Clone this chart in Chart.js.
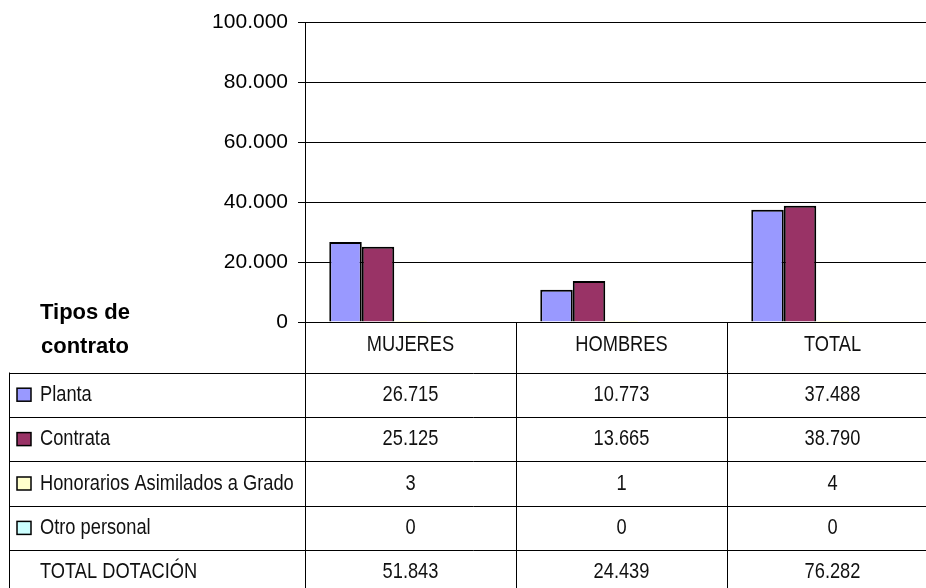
<!DOCTYPE html>
<html>
<head>
<meta charset="utf-8">
<script src="https://cdn.jsdelivr.net/npm/chart.js"></script>
<style>
  html, body { margin: 0; padding: 0; background: #ffffff; overflow: hidden; }
  /* the original plot runs a little past the right edge of the picture */
  #wrap { width: 926px; height: 588px; overflow: hidden; }
</style>
</head>
<body>
<div id="wrap"><canvas id="chart" width="938" height="588"></canvas></div>
<script>
// Chart data
const categories = ['MUJERES', 'HOMBRES', 'TOTAL'];
const seriesNames = ['Planta', 'Contrata', 'Honorarios Asimilados a Grado', 'Otro personal', 'TOTAL DOTACIÓN'];
const planta = [26715, 10773, 37488];
const contrata = [25125, 13665, 38790];
const honorarios = [3, 1, 4];
const otroPersonal = [0, 0, 0];
const totalDotacion = [51843, 24439, 76282];
const yTicks = [0, 20000, 40000, 60000, 80000, 100000];
const tableTitle = ['Tipos de', 'contrato'];

const seriesColors = ['#9999FF', '#993366', '#FFFFCC', '#CCFFFF', 'rgba(0,0,0,0)'];
const plainFont = '"Liberation Sans", Arial, sans-serif';

// 26715 -> "26.715"
function fmt(n) {
    return String(n).replace(/\B(?=(\d{3})+(?!\d))/g, '.');
}

// no narrow face installed, so squeeze Liberation Sans horizontally
function narrowText(ctx, text, x, y, align) {
    ctx.save();
    ctx.translate(x, y);
    ctx.scale(0.83, 1);
    ctx.textAlign = align;
    ctx.fillText(text, 0, 0);
    ctx.restore();
}

const seriesValues = [planta, contrata, honorarios, otroPersonal, totalDotacion];

// Draws the data table below the plot, using the x scale columns
const dataTablePlugin = {
    id: 'dataTable',
    afterDraw(chart) {
        const ctx = chart.ctx;
        const x = chart.scales.x;
        const area = chart.chartArea;
        const colW = x.width / categories.length;
        const edges = categories.map((c, i) => x.getPixelForValue(i) - colW / 2);
        const headBottom = 372.5;
        const rowH = 44.4;
        const left = 9.5;
        const bottom = chart.height;

        ctx.save();
        ctx.strokeStyle = '#000000';
        ctx.lineWidth = 1;

        // horizontal row lines
        for (let k = 0; k < seriesNames.length; k++) {
            const y = Math.round(headBottom + k * rowH) + 0.5;
            ctx.beginPath();
            ctx.moveTo(left, y);
            ctx.lineTo(area.right, y);
            ctx.stroke();
        }
        // vertical column lines
        edges.forEach(e => {
            const xx = Math.round(e) + 0.5;
            ctx.beginPath();
            ctx.moveTo(xx, area.bottom);
            ctx.lineTo(xx, bottom);
            ctx.stroke();
        });
        ctx.beginPath();
        ctx.moveTo(left, headBottom);
        ctx.lineTo(left, bottom);
        ctx.stroke();

        ctx.textBaseline = 'middle';

        // title "Tipos de contrato"
        ctx.font = 'bold 22px ' + plainFont;
        ctx.fillStyle = '#000000';
        ctx.textAlign = 'center';
        ctx.fillText(tableTitle[0], 85, 313);
        ctx.fillText(tableTitle[1], 85, 347);

        ctx.fillStyle = '#111111';
        ctx.font = '22px ' + plainFont;

        // category header
        categories.forEach((c, i) => {
            narrowText(ctx, c, x.getPixelForValue(i), (area.bottom + headBottom) / 2 - 2, 'center');
        });

        // rows
        seriesNames.forEach((name, r) => {
            const cy = headBottom + r * rowH + rowH / 2;
            ctx.fillStyle = '#111111';
            narrowText(ctx, name, 40, cy, 'left');
            if (r < 4) {
                ctx.fillStyle = seriesColors[r];
                ctx.fillRect(17, cy - 6.5, 14, 13);
                ctx.lineWidth = 1.5;
                ctx.strokeRect(17, cy - 6.5, 14, 13);
                ctx.lineWidth = 1;
            }
            ctx.fillStyle = '#111111';
            seriesValues[r].forEach((v, i) => {
                narrowText(ctx, fmt(v), x.getPixelForValue(i), cy, 'center');
            });
        });
        ctx.restore();
    }
};

const ctx = document.getElementById('chart').getContext('2d');
const chart = new Chart(ctx, {
    type: 'bar',
    data: {
        labels: categories,
        datasets: seriesNames.map((name, i) => ({
            label: name,
            data: seriesValues[i],
            backgroundColor: seriesColors[i],
            borderColor: i < 2 ? '#000000' : 'rgba(0,0,0,0)',
            borderWidth: i < 2 ? 2 : 0,
            categoryPercentage: 0.77,
            barPercentage: 1.0
        }))
    },
    options: {
        responsive: false,
        animation: false,
        devicePixelRatio: 1,
        layout: {
            padding: { top: 22, bottom: 266, left: 0, right: 0 }
        },
        plugins: {
            legend: { display: false },
            tooltip: { enabled: false }
        },
        scales: {
            x: {
                display: true,
                grid: { display: false },
                border: { display: false },
                ticks: { display: false },
                afterFit: scale => {
                    scale.height = 0;
                }
            },
            y: {
                min: 0,
                max: 100000,
                afterBuildTicks: scale => {
                    scale.ticks = yTicks.map(v => ({ value: v }));
                },
                afterFit: scale => {
                    scale.width = 305;
                },
                grid: {
                    color: '#000000',
                    lineWidth: 1,
                    tickLength: 7,
                    tickColor: '#000000'
                },
                border: { display: true, color: '#000000', width: 1 },
                ticks: {
                    color: '#000000',
                    padding: 10,
                    font: { family: plainFont, size: 21 },
                    callback: v => fmt(v)
                }
            }
        }
    },
    plugins: [dataTablePlugin]
});
</script>
</body>
</html>
